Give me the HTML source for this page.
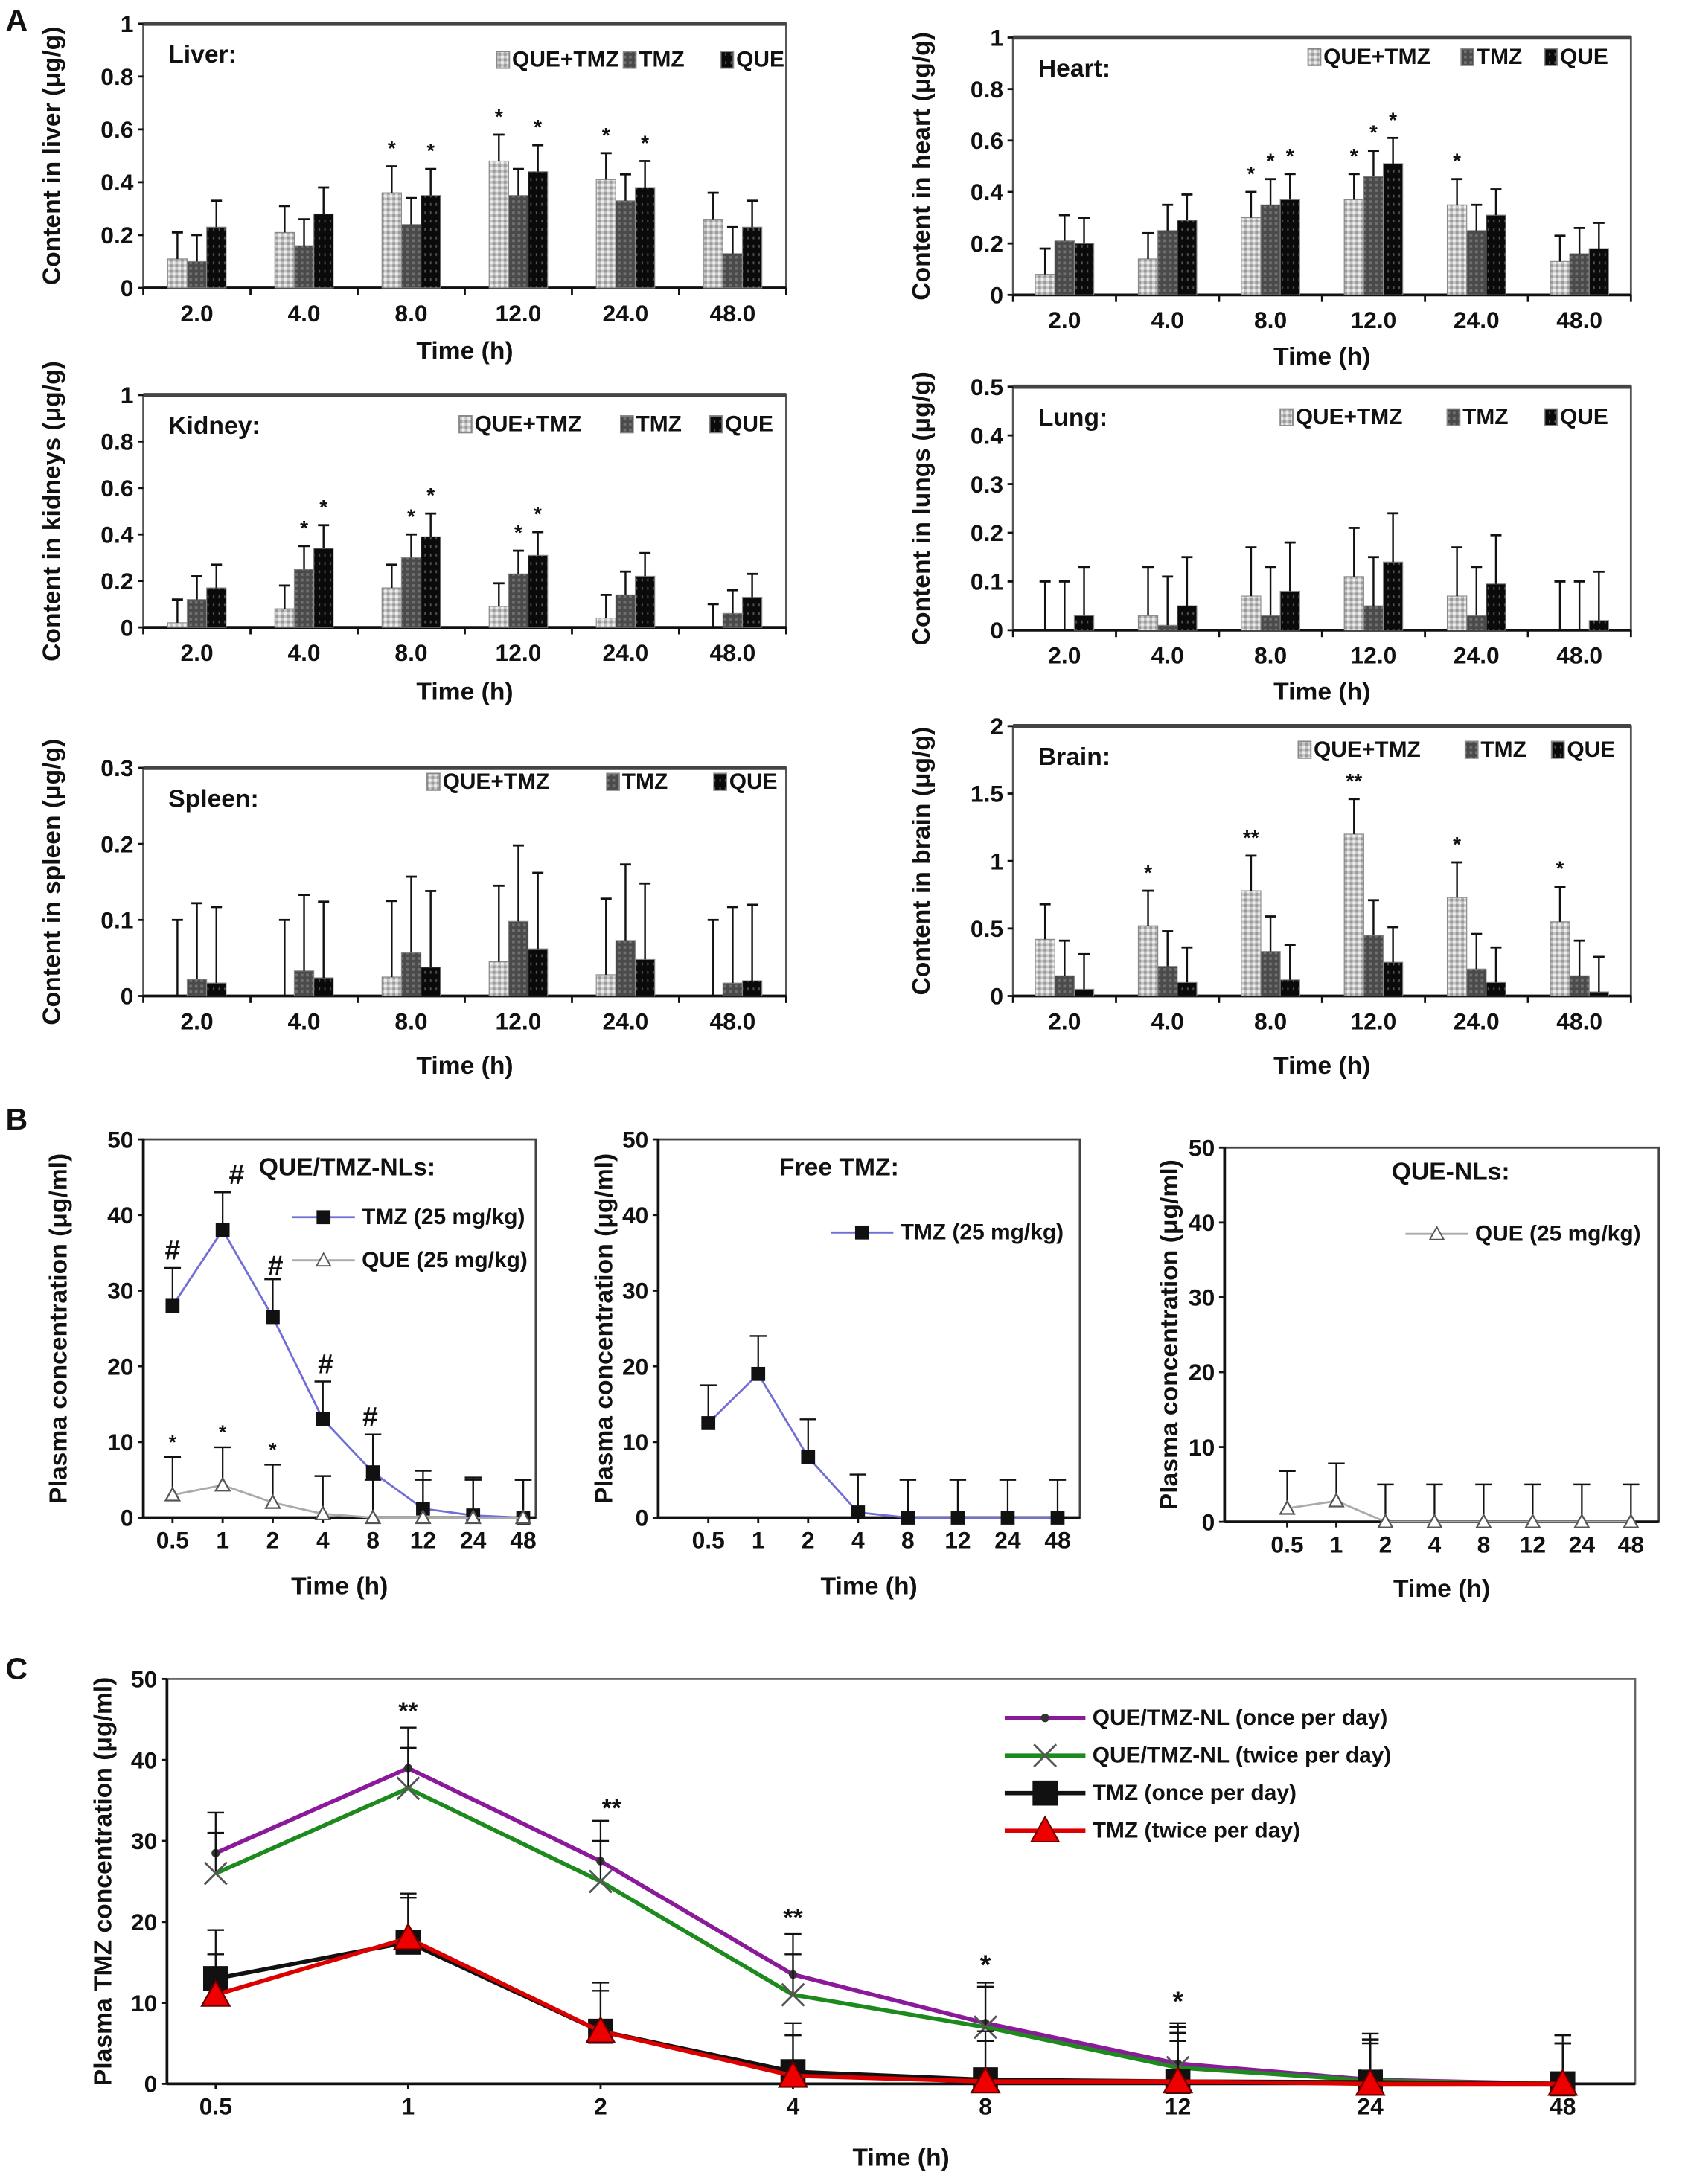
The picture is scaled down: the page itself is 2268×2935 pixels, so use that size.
<!DOCTYPE html>
<html><head><meta charset="utf-8"><style>
html,body{margin:0;padding:0;background:#fff}
svg{display:block}
text{font-family:"Liberation Sans",Arial,sans-serif;font-weight:bold;fill:#111}
</style></head><body>
<svg id="fig" width="2268" height="2935" viewBox="0 0 1213 1570" preserveAspectRatio="none" xmlns="http://www.w3.org/2000/svg">
<defs>
<pattern id="pLight" width="4" height="4" patternUnits="userSpaceOnUse"><rect width="4" height="4" fill="#c4c4c4"/><rect width="2" height="2" fill="#eee"/><rect x="2" y="2" width="2" height="2" fill="#999"/></pattern>
<pattern id="pMid" width="4" height="4" patternUnits="userSpaceOnUse"><rect width="4" height="4" fill="#4a4a4a"/><rect width="2" height="2" fill="#707070"/></pattern>
<pattern id="pDark" width="4" height="6" patternUnits="userSpaceOnUse"><rect width="4" height="6" fill="#0a0a0a"/><rect x="1" y="2" width="1" height="2" fill="#555"/></pattern>
</defs>
<text x="4" y="22" font-size="22">A</text>
<text x="4" y="812" font-size="22">B</text>
<text x="4" y="1207" font-size="22">C</text>
</svg>
<script>
const NS="http://www.w3.org/2000/svg";
const svg=document.getElementById('fig');
function mk(tag,attrs,parent,txt){const e=document.createElementNS(NS,tag);for(const k in attrs)e.setAttribute(k,attrs[k]);if(txt!==undefined)e.textContent=txt;(parent||svg).appendChild(e);return e;}

// ---------- Panel A data ----------
const barCats=["2.0","4.0","8.0","12.0","24.0","48.0"];
const liverQT=[0.11,0.21,0.36,0.48,0.41,0.26];
const liverTMZ=[0.10,0.16,0.24,0.35,0.33,0.13];
const liverQUE=[0.23,0.28,0.35,0.44,0.38,0.23];
const heartQT=[0.08,0.14,0.30,0.37,0.35,0.13];
const heartTMZ=[0.21,0.25,0.35,0.46,0.25,0.16];
const heartQUE=[0.20,0.29,0.37,0.51,0.31,0.18];
const kidneyQT=[0.02,0.08,0.17,0.09,0.04,0.0];
const kidneyTMZ=[0.12,0.25,0.30,0.23,0.14,0.06];
const kidneyQUE=[0.17,0.34,0.39,0.31,0.22,0.13];
const lungQT=[0.0,0.03,0.07,0.11,0.07,0.0];
const lungTMZ=[0.0,0.01,0.03,0.05,0.03,0.0];
const lungQUE=[0.03,0.05,0.08,0.14,0.095,0.02];
const spleenQT=[0.0,0.0,0.025,0.045,0.028,0.0];
const spleenTMZ=[0.022,0.033,0.057,0.098,0.073,0.017];
const spleenQUE=[0.017,0.024,0.038,0.062,0.048,0.02];
const brainQT=[0.42,0.52,0.78,1.2,0.73,0.55];
const brainTMZ=[0.15,0.22,0.33,0.45,0.2,0.15];
const brainQUE=[0.05,0.1,0.12,0.25,0.1,0.03];
const ticks01=["0","0.2","0.4","0.6","0.8","1"];
const ticks05=["0","0.1","0.2","0.3","0.4","0.5"];
const ticks03=["0","0.1","0.2","0.3"];
const ticks2=["0","0.5","1","1.5","2"];

function barChart(o){
  const g=mk('g',{});
  
  
  const {x0,x1,yTop,yBot,max}=o;
  const Y=v=>yBot-(v/max)*(yBot-yTop);
  const n=o.cats.length, gw=(x1-x0)/n;
  const X=i=>x0+gw*(i+0.5);
  mk('rect',{x:x0,y:yTop,width:x1-x0,height:yBot-yTop,fill:'none',stroke:'#555',"stroke-width":1.5},g);
  mk('line',{x1:x0,y1:yTop,x2:x1,y2:yTop,stroke:'#444',"stroke-width":3},g);
  mk('line',{x1:x0,y1:yBot,x2:x1,y2:yBot,stroke:'#111',"stroke-width":2},g);
  o.ticks.forEach(t=>{const v=parseFloat(t);
    mk('line',{x1:x0-4,y1:Y(v),x2:x0,y2:Y(v),stroke:'#111',"stroke-width":1.5},g);
    const tx=mk('text',{x:x0-7,y:Y(v)+6,"font-size":17,"text-anchor":"end"},g,t);
    
    
  });
  for(let i=0;i<=n;i++)mk('line',{x1:x0+gw*i,y1:yBot,x2:x0+gw*i,y2:yBot+5,stroke:'#111',"stroke-width":1.5},g);
  const fills=['url(#pLight)','url(#pMid)','url(#pDark)'];
  const bw=14;
  o.cats.forEach((c,i)=>{
    const t=mk('text',{x:X(i),y:yBot+24,"font-size":17,"text-anchor":"middle"},g,c);
    
    
    o.series.forEach((s,k)=>{
      const v=s[i]; const bx=X(i)+(k-1.5)*bw;
      const r=mk('rect',{x:bx,y:Y(v),width:bw,height:yBot-Y(v),fill:fills[k],stroke:'#888',"stroke-width":0.6},g);
      
      
      const e=v+o.err, ex=bx+bw/2;
      mk('line',{x1:ex,y1:Y(v),x2:ex,y2:Y(e),stroke:'#111',"stroke-width":1.3},g);
      mk('line',{x1:ex-4,y1:Y(e),x2:ex+4,y2:Y(e),stroke:'#111',"stroke-width":1.5},g);
    });
  });
  (o.stars||[]).forEach(s=>{
    const bx=X(s[0])+(s[1]-1)*bw;
    const st=mk('text',{x:bx,y:Y(o.series[s[1]][s[0]]+o.err)-8,"font-size":15,"text-anchor":"middle",fill:"#555"},g,s[2]||'*');
    
    
  });
  const tt=mk('text',{x:x0+18,y:yTop+28,"font-size":18},g,o.title);
  
  
  const lg=mk('g',{},g);
  
  
  ['QUE+TMZ','TMZ','QUE'].forEach((l,k)=>{
    const lx=o.leg[k];
    mk('rect',{x:lx,y:o.legY-11,width:9,height:12,fill:fills[k],stroke:'#888'},lg);
    mk('text',{x:lx+11,y:o.legY,"font-size":16},lg,l);
  });
  const yl=mk('text',{x:0,y:0,"font-size":18,"text-anchor":"middle",transform:`translate(${x0-60},${(yTop+yBot)/2}) rotate(-90)`},g,o.ylab);
  
  
  const xl=mk('text',{x:(x0+x1)/2,y:o.xlabY,"font-size":18,"text-anchor":"middle"},g,'Time (h)');
  
  
}
barChart({name:'liver',x0:103,x1:565,yTop:17,yBot:207,max:1,ticks:ticks01,cats:barCats,series:[liverQT,liverTMZ,liverQUE],err:0.1,title:'Liver:',leg:[357,448,518],legY:48,ylab:'Content in liver (μg/g)',xlabY:258,stars:[[2,0],[2,2],[3,0],[3,2],[4,0],[4,2]]});
barChart({name:'heart',x0:728,x1:1172,yTop:27,yBot:212,max:1,ticks:ticks01,cats:barCats,series:[heartQT,heartTMZ,heartQUE],err:0.1,title:'Heart:',leg:[940,1050,1110],legY:46,ylab:'Content in heart (μg/g)',xlabY:262,stars:[[2,0],[2,1],[2,2],[3,0],[3,1],[3,2],[4,0]]});
barChart({name:'kidney',x0:103,x1:565,yTop:284,yBot:451,max:1,ticks:ticks01,cats:barCats,series:[kidneyQT,kidneyTMZ,kidneyQUE],err:0.1,title:'Kidney:',leg:[330,446,510],legY:310,ylab:'Content in kidneys (μg/g)',xlabY:503,stars:[[1,1],[1,2],[2,1],[2,2],[3,1],[3,2]]});
barChart({name:'lung',x0:728,x1:1172,yTop:278,yBot:453,max:0.5,ticks:ticks05,cats:barCats,series:[lungQT,lungTMZ,lungQUE],err:0.1,title:'Lung:',leg:[920,1040,1110],legY:305,ylab:'Content in lungs (μg/g)',xlabY:503});
barChart({name:'spleen',x0:103,x1:565,yTop:552,yBot:716,max:0.3,ticks:ticks03,cats:barCats,series:[spleenQT,spleenTMZ,spleenQUE],err:0.1,title:'Spleen:',leg:[307,436,513],legY:567,ylab:'Content in spleen (μg/g)',xlabY:772});
barChart({name:'brain',x0:728,x1:1172,yTop:522,yBot:716,max:2,ticks:ticks2,cats:barCats,series:[brainQT,brainTMZ,brainQUE],err:0.26,title:'Brain:',leg:[933,1053,1115],legY:544,ylab:'Content in brain (μg/g)',xlabY:772,stars:[[1,0],[2,0,'**'],[3,0,'**'],[4,0],[5,0]]});

// ---------- Panel B data ----------
const timeCats=["0.5","1","2","4","8","12","24","48"];
const b1TMZ=[28,38,26.5,13,6,1.2,0.3,0];
const b1QUE=[3,4.3,2,0.5,0,0,0,0];
const b2TMZ=[12.5,19,8,0.7,0,0,0,0];
const b3QUE=[1.8,2.8,0,0,0,0,0,0];
const plasmaTicks=["0","10","20","30","40","50"];
// ---------- Panel C data ----------
const cOnceNL=[28.5,39,27.5,13.5,7.5,2.5,0.5,0];
const cTwiceNL=[26,36.5,25,11,7,2,0.4,0];
const cOnceTMZ=[13,17.5,6.5,1.5,0.5,0.3,0.2,0];
const cTwiceTMZ=[11,18,6.5,1,0.3,0.3,0,0];

function lineChart(o){
  const g=mk('g',{});
  
  
  const {x0,x1,yTop,yBot,max,cx0,cx1}=o;
  const Y=v=>yBot-(v/max)*(yBot-yTop);
  const n=o.cats.length;
  const X=i=>cx0+(cx1-cx0)*i/(n-1);
  mk('rect',{x:x0,y:yTop,width:x1-x0,height:yBot-yTop,fill:'none',stroke:o.frame||'#444',"stroke-width":1.5},g);
  mk('line',{x1:x0,y1:yBot,x2:x1,y2:yBot,stroke:'#111',"stroke-width":2},g);
  mk('line',{x1:x0,y1:yTop,x2:x0,y2:yBot,stroke:'#111',"stroke-width":2},g);
  o.ticks.forEach(t=>{const v=parseFloat(t);
    mk('line',{x1:x0-4,y1:Y(v),x2:x0,y2:Y(v),stroke:'#111',"stroke-width":1.5},g);
    const tx=mk('text',{x:x0-7,y:Y(v)+6,"font-size":o.fs||17,"text-anchor":"end"},g,t);
    
    
  });
  o.cats.forEach((c,i)=>{
    mk('line',{x1:X(i),y1:yBot,x2:X(i),y2:yBot+4,stroke:'#111',"stroke-width":1.5},g);
    const t=mk('text',{x:X(i),y:yBot+22,"font-size":o.fs||17,"text-anchor":"middle"},g,c);
    
    
  });
  o.series.forEach(s=>{
    const sg=mk('g',{},g);
    
    
    s.vals.forEach((v,i)=>{
      const e=v+s.err, ex=X(i);
      mk('line',{x1:ex,y1:Y(v),x2:ex,y2:Y(e),stroke:'#111',"stroke-width":1.2},sg);
      mk('line',{x1:ex-6,y1:Y(e),x2:ex+6,y2:Y(e),stroke:'#111',"stroke-width":1.3},sg);
    });
    mk('polyline',{points:s.vals.map((v,i)=>X(i)+','+Y(v)).join(' '),fill:'none',stroke:s.color,"stroke-width":s.w||1.5},sg);
    s.vals.forEach((v,i)=>{
      const px=X(i),py=Y(v),r=s.r||5;let m;
      if(s.marker==='square')m=mk('rect',{x:px-r,y:py-r,width:2*r,height:2*r,fill:'#111'},sg);
      else if(s.marker==='tri')m=mk('polygon',{points:`${px},${py-r} ${px-r},${py+r*0.8} ${px+r},${py+r*0.8}`,fill:s.mfill||'#fff',stroke:s.mstroke||'#555',"stroke-width":1.2},sg);
      else if(s.marker==='x')m=mk('path',{d:`M${px-r},${py-r}L${px+r},${py+r}M${px-r},${py+r}L${px+r},${py-r}`,stroke:'#555',"stroke-width":1.5},sg);
      else m=mk('circle',{cx:px,cy:py,r:r,fill:'#333'},sg);
      
      
    });
  });
  (o.marks||[]).forEach(m=>{
    const t=mk('text',{x:X(m[0])+(m[3]||0),y:Y(m[1])-6,"font-size":m[4]||18,"text-anchor":"middle",fill:m[5]||'#333',"font-weight":"normal"},g,m[2]);
    
    
  });
  const yl=mk('text',{x:0,y:0,"font-size":18,"text-anchor":"middle",transform:`translate(${o.ylx},${(yTop+yBot)/2}) rotate(-90)`},g,o.ylab);
  
  
  const xl=mk('text',{x:(x0+x1)/2,y:o.xlabY,"font-size":18,"text-anchor":"middle"},g,'Time (h)');
  
  
  if(o.title){const tt=mk('text',{x:o.title[1],y:o.title[2],"font-size":18},g,o.title[0]);
    
    }
  const lg=mk('g',{},g);
  
  
  (o.legend||[]).forEach(l=>{
    const [lx,ly,label,s]=l;
    mk('line',{x1:lx,y1:ly-5,x2:lx+o.legLen,y2:ly-5,stroke:s.color,"stroke-width":s.w||1.5},lg);
    const px=lx+o.legLen/2,py=ly-5,r=s.r||5;
    if(s.marker==='square')mk('rect',{x:px-r,y:py-r,width:2*r,height:2*r,fill:'#111'},lg);
    else if(s.marker==='tri')mk('polygon',{points:`${px},${py-r} ${px-r},${py+r*0.8} ${px+r},${py+r*0.8}`,fill:s.mfill||'#fff',stroke:s.mstroke||'#555'},lg);
    else if(s.marker==='x')mk('path',{d:`M${px-r},${py-r}L${px+r},${py+r}M${px-r},${py+r}L${px+r},${py-r}`,stroke:'#555',"stroke-width":1.5},lg);
    else mk('circle',{cx:px,cy:py,r:r,fill:'#333'},lg);
    mk('text',{x:lx+o.legLen+5,y:ly,"font-size":16},lg,label);
  });
}
const sB1T={key:'tmz',vals:b1TMZ,err:5,color:'#6f6fd6',marker:'square',r:5};
const sB1Q={key:'que',vals:b1QUE,err:5,color:'#aaa',marker:'tri',r:5};
lineChart({name:'que-tmz-nls',x0:103,x1:385,yTop:819,yBot:1091,max:50,cx0:124,cx1:376,ticks:plasmaTicks,cats:timeCats,series:[sB1T,sB1Q],
  ylab:'Plasma concentration (μg/ml)',ylx:48,xlabY:1146,title:['QUE/TMZ-NLs:',186,845],legLen:45,
  legend:[[210,880,'TMZ (25 mg/kg)',sB1T],[210,911,'QUE (25 mg/kg)',sB1Q]],
  marks:[[0,33,'#',0,20,'#8a5a2a'],[1,43,'#',10,20,'#8a5a2a'],[2,31,'#',2,20,'#8a5a2a'],[3,18,'#',2,20,'#8a5a2a'],[4,11,'#',-2,20,'#8a5a2a'],[0,8,'*',0,14],[1,9.3,'*',0,14],[2,7,'*',0,14]]});
const sB2T={key:'tmz',vals:b2TMZ,err:5,color:'#6f6fd6',marker:'square',r:5};
lineChart({name:'free-tmz',x0:473,x1:776,yTop:819,yBot:1091,max:50,cx0:509,cx1:760,ticks:plasmaTicks,cats:timeCats,series:[sB2T],
  ylab:'Plasma concentration (μg/ml)',ylx:440,xlabY:1146,title:['Free TMZ:',560,845],legLen:45,
  legend:[[597,891,'TMZ (25 mg/kg)',sB2T]]});
const sB3Q={key:'que',vals:b3QUE,err:5,color:'#aaa',marker:'tri',r:5};
lineChart({name:'que-nls',x0:880,x1:1192,yTop:825,yBot:1094,max:50,cx0:925,cx1:1172,ticks:plasmaTicks,cats:timeCats,series:[sB3Q],
  ylab:'Plasma concentration (μg/ml)',ylx:846,xlabY:1148,title:['QUE-NLs:',1000,848],legLen:45,
  legend:[[1010,892,'QUE (25 mg/kg)',sB3Q]]});
const sC1={key:'nl-once',vals:cOnceNL,err:5,color:'#8b1a9b',marker:'dot',r:3,w:3};
const sC2={key:'nl-twice',vals:cTwiceNL,err:5,color:'#1e8a1e',marker:'x',r:8,w:3};
const sC3={key:'tmz-once',vals:cOnceTMZ,err:6,color:'#111',marker:'square',r:9,w:3};
const sC4={key:'tmz-twice',vals:cTwiceTMZ,err:5,color:'#d00',marker:'tri',r:10,w:3,mfill:'#e00',mstroke:'#600'};
lineChart({name:'plasma-tmz',x0:120,x1:1175,yTop:1207,yBot:1498,max:50,cx0:155,cx1:1123,ticks:plasmaTicks,cats:timeCats,series:[sC1,sC2,sC3,sC4],frame:'#666',
  ylab:'Plasma TMZ concentration (μg/ml)',ylx:80,xlabY:1557,legLen:58,
  legend:[[722,1240,'QUE/TMZ-NL (once per day)',sC1],[722,1267,'QUE/TMZ-NL (twice per day)',sC2],[722,1294,'TMZ (once per day)',sC3],[722,1321,'TMZ (twice per day)',sC4]],
  marks:[[1,44,'**',0,18],[2,32,'**',8,18],[3,18.5,'**',0,18],[4,12.5,'*',0,20],[5,8,'*',0,20]]});
</script>
</body></html>
